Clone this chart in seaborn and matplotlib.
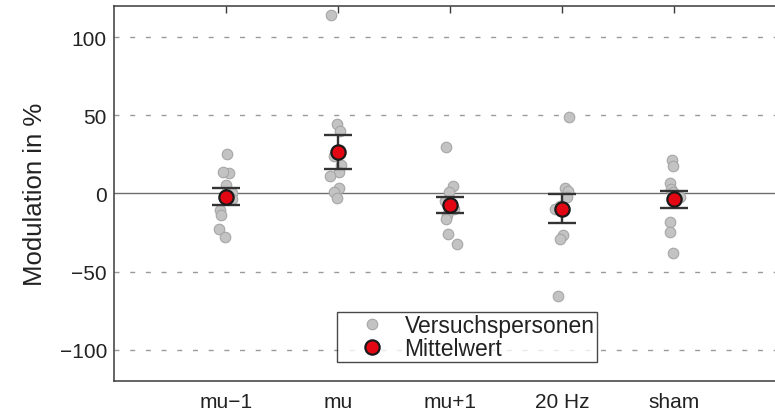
import numpy as np
import pandas as pd
import matplotlib
matplotlib.use("Agg")
import matplotlib.pyplot as plt
from matplotlib.lines import Line2D
import seaborn as sns

# Conditions and per-subject modulation values (%)
conditions = ["mu\u22121", "mu", "mu+1", "20 Hz", "sham"]
subj_mu_minus1 = [25.0, 13.3, 13.7, 5.6, 0.5, -3.5, -10.3, -14.0, -23.0, -27.8]
subj_mu = [114.3, 44.2, 40.0, 23.9, 18.2, 13.7, 11.1, 3.6, 0.8, -3.2]
subj_mu_plus1 = [29.7, 4.7, 0.8, -4.9, -7.0, -10.0, -14.0, -16.2, -25.9, -32.3]
subj_20hz = [49.2, 3.6, 1.5, -2.0, -8.0, -10.0, -10.3, -26.9, -29.0, -65.8]
subj_sham = [21.2, 17.5, 6.8, 2.6, 1.0, -2.0, -4.0, -18.4, -24.8, -38.0]

# Group means and standard errors
mean_values = [-2.1, 26.5, -7.5, -9.8, -3.8]
sem_values = [5.4, 10.9, 5.3, 9.3, 5.5]

yticks = [-100, -50, 0, 50, 100]

sns.set_style("white")
plt.rcParams["font.family"] = ["Liberation Sans", "DejaVu Sans"]

subjects = [subj_mu_minus1, subj_mu, subj_mu_plus1, subj_20hz, subj_sham]
df = pd.DataFrame({
    "Bedingung": np.repeat(conditions, [len(s) for s in subjects]),
    "Modulation": np.concatenate(subjects),
})

fig = plt.figure(figsize=(7.75, 4.14), dpi=100)
ax = fig.add_axes([0.147, 0.0773, 0.867, 0.906])

# horizontal reference lines
for y in yticks:
    if y == 0:
        ax.axhline(0, color="#6e6e6e", lw=1.0, zorder=1)
    else:
        ax.axhline(y, color="#9a9a9a", lw=1.0, ls=(0, (3.6, 7.7)), zorder=1)

np.random.seed(3)
sns.stripplot(data=df, x="Bedingung", y="Modulation", order=conditions,
              jitter=0.07, size=7.6, color="#c3c3c3", edgecolor="#a6a6a6",
              linewidth=0.8, ax=ax, zorder=2)

xpos = np.arange(len(conditions))
ax.errorbar(xpos, mean_values, yerr=sem_values, fmt="none", ecolor="#333333",
            elinewidth=1.7, capsize=10, capthick=1.7, zorder=3)
ax.plot(xpos, mean_values, "o", ms=10.3, mfc="#e30613", mec="#1a1a1a",
        mew=1.6, ls="none", zorder=4)

ax.set_xlim(-1, 5)
ax.set_ylim(-120, 120)
ax.set_yticks(yticks)
ax.set_xticks(xpos)
ax.set_xticklabels(conditions)
ax.set_xlabel("")
ax.set_ylabel("Modulation in %", fontsize=18.5, color="#222222", labelpad=9)

ax.tick_params(axis="both", direction="in", labelsize=15, colors="#3a3a3a",
               labelcolor="#222222", length=5, width=1.0,
               top=True, right=True)
ax.tick_params(axis="x", pad=8)
ax.tick_params(axis="y", pad=5)
for side in ["left", "right", "top", "bottom"]:
    ax.spines[side].set_visible(True)
    ax.spines[side].set_color("#3a3a3a")
    ax.spines[side].set_linewidth(1.1)

handles = [
    Line2D([], [], marker="o", ls="none", ms=7.6, mfc="#c3c3c3",
           mec="#a6a6a6", mew=0.8, label="Versuchspersonen"),
    Line2D([], [], marker="o", ls="none", ms=10.3, mfc="#e30613",
           mec="#1a1a1a", mew=1.6, label="Mittelwert"),
]
leg = ax.legend(handles=handles, loc="lower left",
                bbox_to_anchor=(0.332, 0.05), fontsize=16.5, frameon=True,
                fancybox=False, borderpad=0.1, labelspacing=0.0,
                handletextpad=0.0, handlelength=2.85, borderaxespad=0)
leg.get_frame().set_edgecolor("#1a1a1a")
leg.get_frame().set_linewidth(1.0)
for t in leg.get_texts():
    t.set_color("#222222")

fig.savefig("out.png", dpi=100)
